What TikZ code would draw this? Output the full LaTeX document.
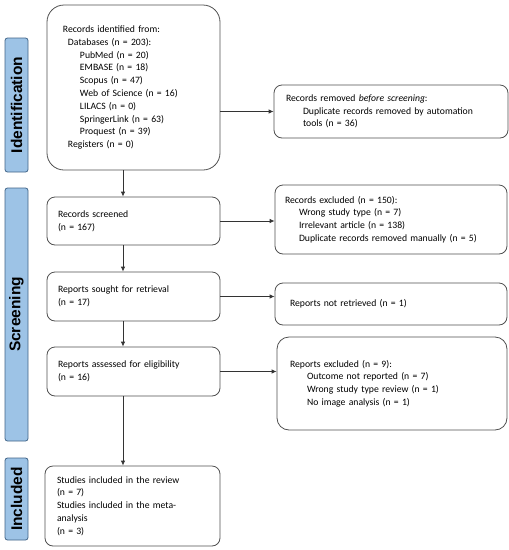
\documentclass[tikz,border=0pt]{standalone}
\usepackage{fontspec}
\setmainfont{Carlito}
\newfontfamily\barfont{Liberation Sans}
\usepackage{xcolor}
\usetikzlibrary{arrows.meta}
\definecolor{barfill}{RGB}{157,195,230}
\definecolor{barline}{RGB}{65,100,135}
\definecolor{boxline}{RGB}{80,80,80}
\tikzset{
	stage/.style={
			draw=boxline, line width=0.8pt, rounded corners=8pt,
			align=left, inner ysep=0pt,
			font=\fontsize{9.7}{12.8}\selectfont
		},
	phase/.style={
			draw=barline, fill=barfill, line width=0.8pt, rounded corners=2.5pt,
			rotate=90, minimum height=23pt, inner sep=0pt,
			font=\barfont\bfseries\fontsize{15.5}{16}\selectfont
		},
	flow/.style={-{Latex[length=5pt,width=4.5pt]}, draw=black!80, line width=0.8pt}
}

\begin{document}
\begin{tikzpicture}[x=1pt, y=-1pt]
        \useasboundingbox (0,0) rectangle (509,550);
        % phase bars
        \node [phase, minimum width=134pt] (bid)  at (16.5, 105) {Identification};
        \node [phase, minimum width=253pt] (bscr) at (16.5, 314.5) {Screening};
        \node [phase, minimum width=82pt]  (binc) at (16.5, 499) {Included};
        % left column
        \node [stage, rounded corners=17pt, minimum height=165pt, text width=141pt, inner xsep=16pt] (id) at (133.5, 87.5)
            {Records identified from:\\
             \hspace*{5pt}Databases (n = 203):\\
             \hspace*{17pt}PubMed (n = 20)\\
             \hspace*{17pt}EMBASE (n = 18)\\
             \hspace*{17pt}Scopus (n = 47)\\
             \hspace*{17pt}Web of Science (n = 16)\\
             \hspace*{17pt}LILACS (n = 0)\\
             \hspace*{17pt}SpringerLink (n = 63)\\
             \hspace*{17pt}Proquest (n = 39)\\
             \hspace*{5pt}Registers (n = 0)};
        \node [stage, minimum height=48pt, text width=151pt, inner xsep=11pt] (screened) at (133.5, 221)
            {Records screened\\(n = 167)};
        \node [stage, minimum height=49pt, text width=151pt, inner xsep=11pt] (sought) at (133.5, 296.5)
            {Reports sought for retrieval\\(n = 17)};
        \node [stage, minimum height=49pt, text width=151pt, inner xsep=11pt] (assessed) at (133.5, 371.5)
            {Reports assessed for eligibility\\(n = 16)};
        \node [stage, minimum height=80pt, text width=151pt, inner xsep=12pt] (studies) at (132.5, 506)
            {Studies included in the review\\(n = 7)\\Studies included in the meta-\\analysis\\(n = 3)};
        % right column
        \node [stage, minimum height=53pt, text width=210pt, inner xsep=12pt] (removed) at (391, 111.5)
            {Records removed \emph{before screening}:\\
             \hspace*{17pt}Duplicate records removed by automation\\
             \hspace*{17pt}tools (n = 36)};
        \node [stage, minimum height=69pt, text width=212pt, inner xsep=10pt] (excluded) at (391, 219.5)
            {Records excluded (n = 150):\\
             \hspace*{14pt}Wrong study type (n = 7)\\
             \hspace*{14pt}Irrelevant article (n = 138)\\
             \hspace*{14pt}Duplicate records removed manually (n = 5)};
        \node [stage, minimum height=42pt, text width=202pt, inner xsep=15pt] (notret) at (391, 304)
            {Reports not retrieved (n = 1)};
        \node [stage, rounded corners=12pt, minimum height=93pt, text width=204pt, inner xsep=13pt] (repexcl) at (392, 383.5)
            {Reports excluded (n = 9):\\
             \hspace*{17pt}Outcome not reported (n = 7)\\
             \hspace*{17pt}Wrong study type review (n = 1)\\
             \hspace*{17pt}No image analysis (n = 1)};
        % connectors
        \coordinate (spine) at (123, 0);
        \draw [flow] (id.south -| spine) -- (screened.north -| spine);
        \draw [flow] (screened.south -| spine) -- (sought.north -| spine);
        \draw [flow] (sought.south -| spine) -- (assessed.north -| spine);
        \draw [flow] (assessed.south -| spine) -- (studies.north -| spine);
        \draw [flow] (id.east |- removed.west) -- (removed.west);
        \draw [flow] (screened.east) -- (screened.east -| excluded.west);
        \draw [flow] (sought.east) -- (sought.east -| notret.west);
        \draw [flow] (assessed.east) -- (assessed.east -| repexcl.west);
    \end{tikzpicture}
\end{document}
